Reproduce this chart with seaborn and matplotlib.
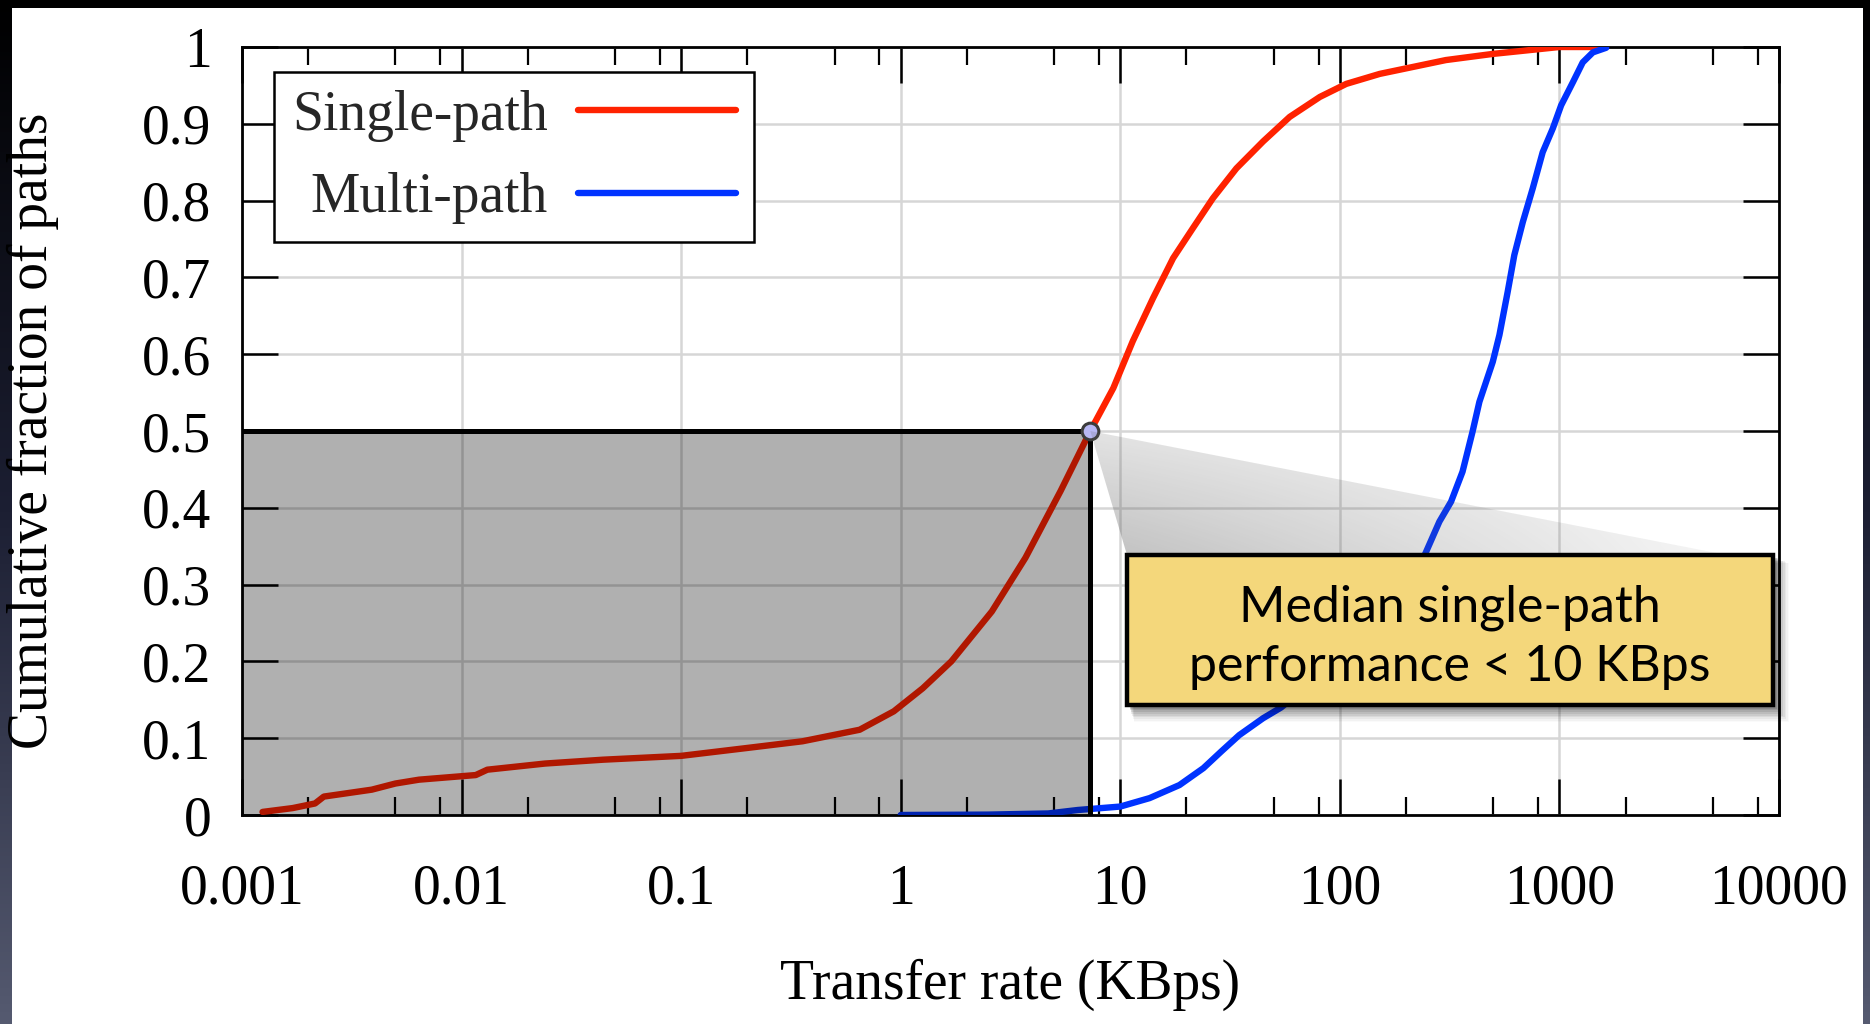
import numpy as np
import pandas as pd
import matplotlib
matplotlib.use("Agg")
import matplotlib.pyplot as plt
import seaborn as sns
from matplotlib.patches import Rectangle, Polygon
from matplotlib.lines import Line2D
from matplotlib.colors import LinearSegmentedColormap
import matplotlib.ticker as mticker

# ---------------- data ----------------
single_x = [0.00124, 0.0017, 0.00215, 0.00236, 0.0039, 0.005, 0.0064, 0.0116, 0.0131,
            0.024, 0.044, 0.1, 0.196, 0.357, 0.65, 0.93, 1.26, 1.7, 2.6, 3.7, 5.35, 7.3,
            9.3, 11.4, 14.1, 17.4, 21.4, 26.4, 33.8, 44.7, 59.1, 81.1, 107, 152, 304, 497,
            1000, 1577]
single_y = [0.004, 0.009, 0.015, 0.024, 0.033, 0.041, 0.046, 0.052, 0.059,
            0.067, 0.072, 0.077, 0.087, 0.096, 0.111, 0.135, 0.165, 0.2, 0.265, 0.335, 0.422, 0.5,
            0.556, 0.617, 0.673, 0.725, 0.764, 0.803, 0.842, 0.877, 0.909, 0.935, 0.952, 0.965,
            0.983, 0.991, 1.0, 1.0]

multi_x = [1.0, 2.5, 4.7, 6.4, 10, 13.6, 18.6, 23.9, 28.9, 34.8, 44.7, 54,
           80, 120, 175, 243, 284, 321, 362, 402, 432, 497, 533, 581, 623, 681,
           756, 839, 933, 1018, 1151, 1277, 1420, 1633]
multi_y = [0.0, 0.0005, 0.002, 0.0065, 0.011, 0.022, 0.039, 0.061, 0.083, 0.104, 0.126, 0.14,
           0.18, 0.23, 0.285, 0.338, 0.382, 0.408, 0.447, 0.499, 0.538, 0.590, 0.625, 0.681,
           0.729, 0.772, 0.816, 0.863, 0.894, 0.924, 0.954, 0.980, 0.993, 0.999]

series_labels = ["Single-path", "Multi-path"]
series_colors = ["#ff2200", "#0033ff"]
median_rate = 7.3
median_frac = 0.5
x_ticks = [0.001, 0.01, 0.1, 1, 10, 100, 1000, 10000]
x_tick_labels = ["0.001", "0.01", "0.1", "1", "10", "100", "1000", "10000"]
y_ticks = [0, 0.1, 0.2, 0.3, 0.4, 0.5, 0.6, 0.7, 0.8, 0.9, 1.0]
y_tick_labels = ["0", "0.1", "0.2", "0.3", "0.4", "0.5", "0.6", "0.7", "0.8", "0.9", "1"]
x_label = "Transfer rate (KBps)"
y_label = "Cumulative fraction of paths"
callout_text = "Median single-path\nperformance < 10 KBps"

# ---------------- style ----------------
sns.set_theme(style="white")
plt.rcParams['font.family'] = ['Liberation Serif', 'DejaVu Serif']

W, H = 1870, 1024
fig = plt.figure(figsize=(W / 100, H / 100), dpi=100)

# background: dark gradient frame + white slide area
bg = fig.add_axes([0, 0, 1, 1], zorder=-10)
grad = np.linspace(0, 1, 256)[:, None]
bg.imshow(grad, cmap=LinearSegmentedColormap.from_list("bg", ["#000000", "#1c1f33", "#555a70"]),
          aspect="auto", extent=[0, W, H, 0])
bg.set_xlim(0, W)
bg.set_ylim(H, 0)
bg.add_patch(Rectangle((12, 8), 1863 - 12, H - 8, facecolor="white", edgecolor="none"))
bg.axis("off")

# main axes
ax = fig.add_axes([242 / W, 1 - 815 / H, 1537 / W, 768 / H], zorder=1)
ax.set_xscale("log")

df = pd.concat([
    pd.DataFrame({"rate": single_x, "frac": single_y, "series": series_labels[0]}),
    pd.DataFrame({"rate": multi_x, "frac": multi_y, "series": series_labels[1]}),
], ignore_index=True)
palette = dict(zip(series_labels, series_colors))
sns.lineplot(data=df, x="rate", y="frac", hue="series", palette=palette, estimator=None,
             sort=False, linewidth=4.6, ax=ax, legend=False, zorder=3)
for ln in ax.lines:
    ln.set_solid_joinstyle("round")
    ln.set_solid_capstyle("round")

x_min, x_max = x_ticks[0], x_ticks[-1]
ax.set_xlim(x_min, x_max)
ax.set_ylim(0, 1)

ax.set_xticks(x_ticks)
ax.set_xticklabels(x_tick_labels)
minor = [d * s for d in x_ticks[:-1] for s in (2, 5, 8)]
ax.xaxis.set_minor_locator(mticker.FixedLocator(minor))
ax.xaxis.set_minor_formatter(mticker.NullFormatter())
ax.set_yticks(y_ticks)
ax.set_yticklabels(y_tick_labels)

ax.tick_params(which="major", direction="in", length=26, width=1.8, colors="black",
               top=True, bottom=True, left=True, right=True, labelsize=40)
ax.tick_params(axis="x", which="major", pad=35)
ax.tick_params(axis="y", which="major", pad=22)
ax.tick_params(which="minor", direction="in", length=13, width=1.6, colors="black",
               top=True, bottom=True)
ax.grid(True, which="major", color="#d6d6d6", lw=1.8)
ax.set_axisbelow(True)
for s in ax.spines.values():
    s.set_color("black")
    s.set_linewidth(2)

ax.set_xlabel(x_label, fontsize=40, color="black")
ax.set_ylabel(y_label, fontsize=40, color="black")
ax.xaxis.label.set_va("center")
ax.xaxis.set_label_coords(0.5, -(985 - 815) / 768)
ax.yaxis.label.set_va("center")
ax.yaxis.set_label_coords(-(242 - 33) / 1537, 0.5)

# shaded region up to median
ax.add_patch(Rectangle((x_min, 0), median_rate - x_min, median_frac, facecolor="black",
                       alpha=0.31, edgecolor="none", zorder=4))
ax.plot([x_min, median_rate], [median_frac, median_frac], color="black", lw=3.6, zorder=5,
        solid_capstyle="butt")
ax.plot([median_rate, median_rate], [0, median_frac], color="black", lw=3.6, zorder=5,
        solid_capstyle="butt")
ax.plot([median_rate], [median_frac], marker="o", ms=12, mfc="#b8b8f4", mec="#3c3c3c",
        mew=2.2, zorder=7, clip_on=False)

# legend
handles = [Line2D([], [], color=c, lw=4.6) for c in series_colors]
leg = ax.legend(handles, series_labels, loc="upper left", bbox_to_anchor=(274 / W, 1 - 72 / H),
                bbox_transform=fig.transFigure, markerfirst=False, frameon=True, fancybox=False,
                edgecolor="black", framealpha=1, fontsize=40, handlelength=2.85,
                handletextpad=0.55, borderpad=0.32, labelspacing=0.55, borderaxespad=0)
leg.get_frame().set_linewidth(1.8)
leg.set_zorder(10)

# ---------------- callout overlay ----------------
ov = fig.add_axes([0, 0, 1, 1], zorder=2)
ov.set_xlim(0, W)
ov.set_ylim(H, 0)
ov.axis("off")
ov.patch.set_alpha(0)

fig.canvas.draw()
dx, dy = ax.transData.transform((median_rate, median_frac))
apx, apy = dx, H - dy

bx0, by0, bx1, by1 = 1127, 555, 1773, 705
tri_right = 1727
tri = Polygon([(apx, apy), (bx0, by0), (tri_right, by0)], closed=True,
              facecolor="none", edgecolor="none")
ov.add_patch(tri)
nx, ny = 300, 100
u = np.linspace(0, 1, nx)[None, :]
v = np.linspace(0, 1, ny)[:, None]
alpha = 0.38 * (1 - 0.85 * u) * (0.45 + 0.55 * v)
rgba = np.zeros((ny, nx, 4))
rgba[..., :3] = 0.35
rgba[..., 3] = alpha
im = ov.imshow(rgba, extent=[apx, tri_right, by0, apy], aspect="auto", zorder=1,
               interpolation="bilinear")
im.set_clip_path(tri)
ov.set_xlim(0, W)
ov.set_ylim(H, 0)

# shadow
for k, a in zip(range(1, 10), np.linspace(0.11, 0.02, 9)):
    ov.add_patch(Rectangle((bx0 + 2 + k * 0.6, by0 + 2 + k * 0.7), bx1 - bx0 + k, by1 - by0 + k,
                           facecolor="black", alpha=a, edgecolor="none", zorder=2))
ov.add_patch(Rectangle((bx0, by0), bx1 - bx0, by1 - by0, facecolor="#f4d77b",
                       edgecolor="black", lw=3.2, zorder=3))
ov.text((bx0 + bx1) / 2, (by0 + by1) / 2 + 7, callout_text, ha="center", va="center",
        fontsize=36, family=["Lato", "DejaVu Sans"], color="black", linespacing=1.36, zorder=4)

fig.savefig("out.png", dpi=100, facecolor=fig.get_facecolor())
